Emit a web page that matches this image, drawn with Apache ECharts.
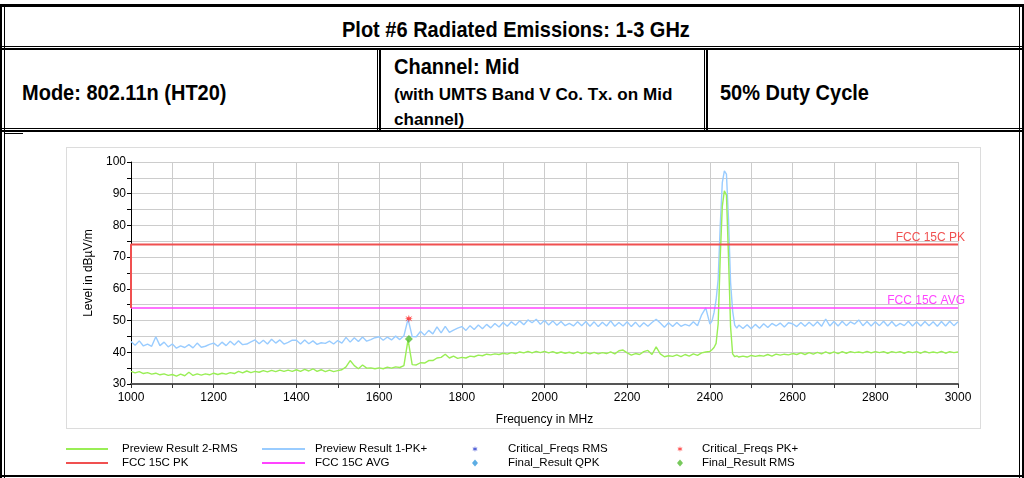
<!DOCTYPE html>
<html>
<head>
<meta charset="utf-8">
<script src="https://cdn.jsdelivr.net/npm/echarts@6/dist/echarts.min.js"></script>
<style>
  body { margin:0; background:#fff; font-family:'Liberation Sans', Arial, sans-serif; }
  #page { position:relative; width:1024px; height:478px; overflow:hidden; }
  .ln { position:absolute; background:#000; }
  .txt { position:absolute; font-weight:bold; color:#000; white-space:nowrap; transform-origin:0 0; }
  #frame { position:absolute; left:66px; top:147px; width:913px; height:280px; border:1px solid #dcdcdc; }
  #chart { position:absolute; left:0; top:0; width:1024px; height:478px; }
</style>
</head>
<body>
<div id="page">
  <!-- table borders -->
  <div class="ln" style="left:0;top:4px;width:1024px;height:3px"></div>
  <div class="ln" style="left:0;top:4px;width:2px;height:474px"></div>
  <div class="ln" style="left:4px;top:4px;width:1px;height:474px"></div>
  <div class="ln" style="left:1019px;top:4px;width:1px;height:474px"></div>
  <div class="ln" style="left:1022px;top:4px;width:2px;height:474px"></div>
  <div class="ln" style="left:0;top:46px;width:1024px;height:1px"></div>
  <div class="ln" style="left:0;top:48px;width:1024px;height:2px"></div>
  <div class="ln" style="left:377px;top:48px;width:1px;height:83px"></div>
  <div class="ln" style="left:379px;top:48px;width:2px;height:83px"></div>
  <div class="ln" style="left:704px;top:48px;width:1px;height:83px"></div>
  <div class="ln" style="left:706px;top:48px;width:2px;height:83px"></div>
  <div class="ln" style="left:0;top:128px;width:1024px;height:1px"></div>
  <div class="ln" style="left:0;top:130px;width:1024px;height:2px"></div>
  <div class="ln" style="left:5px;top:133px;width:18px;height:1px"></div>
  <div class="ln" style="left:0;top:475px;width:1024px;height:2px"></div>

  <div class="txt" style="left:342px;top:18px;font-size:20px;transform:scaleY(1.08)">Plot #6 Radiated Emissions: 1-3 GHz</div>
  <div class="txt" style="left:22px;top:81px;font-size:20px;transform:scaleY(1.08)">Mode: 802.11n (HT20)</div>
  <div class="txt" style="left:394px;top:55px;font-size:20px;transform:scaleY(1.08)">Channel: Mid</div>
  <div class="txt" style="left:394px;top:85px;font-size:15px;transform:scale(1.14,1.05)">(with UMTS Band V Co. Tx. on Mid</div>
  <div class="txt" style="left:394px;top:110px;font-size:15px;transform:scale(1.14,1.05)">channel)</div>
  <div class="txt" style="left:720px;top:81px;font-size:20px;transform:scaleY(1.08)">50% Duty Cycle</div>

  <div id="frame"></div>
  <div id="chart"></div>
</div>
<script>
// frequency grid of the sweep (MHz)
var freq = [
  1000,1010,1020,1030,1040,1050,1060,1070,1080,1090,
  1100,1110,1120,1130,1140,1150,1160,1170,1180,1190,
  1200,1210,1220,1230,1240,1250,1260,1270,1280,1290,
  1300,1310,1320,1330,1340,1350,1360,1370,1380,1390,
  1400,1410,1420,1430,1440,1450,1460,1470,1480,1490,
  1500,1510,1520,1530,1540,1550,1560,1570,1580,1590,
  1600,1610,1620,1630,1640,1650,1660,1670,1680,1690,
  1700,1710,1720,1730,1740,1750,1760,1770,1780,1790,
  1800,1810,1820,1830,1840,1850,1860,1870,1880,1890,
  1900,1910,1920,1930,1940,1950,1960,1970,1980,1990,
  2000,2010,2020,2030,2040,2050,2060,2070,2080,2090,
  2100,2110,2120,2130,2140,2150,2160,2170,2180,2190,
  2200,2210,2220,2230,2240,2250,2260,2270,2280,2290,
  2300,2310,2320,2330,2340,2350,2360,2370,2380,2390,
  2400,
  2405,2410,2415,2420,2425,2430,2435,2440,2445,2450,2455,2460,2465,2470,
  2480,2490,2500,2510,2520,2530,2540,2550,2560,2570,2580,2590,
  2600,2610,2620,2630,2640,2650,2660,2670,2680,2690,
  2700,2710,2720,2730,2740,2750,2760,2770,2780,2790,
  2800,2810,2820,2830,2840,2850,2860,2870,2880,2890,
  2900,2910,2920,2930,2940,2950,2960,2970,2980,2990,
  3000
];

// Preview Result 1-PK+ (dBµV/m)
var pkValues = [
  43.4,42.2,43.6,42.0,42.6,41.9,44.9,42.1,43.2,41.7,
  42.6,41.3,42.0,41.5,42.4,41.4,42.9,41.6,41.9,42.5,
  42.9,41.9,43.2,42.1,43.5,42.3,43.6,42.4,42.6,43.3,
  43.9,42.7,43.8,42.6,44.1,42.9,43.9,42.6,43.1,43.8,
  43.8,42.6,43.9,42.7,43.6,42.5,43.0,42.8,43.5,42.6,
  43.7,42.9,44.7,43.2,44.6,43.4,44.8,43.5,44.0,44.6,
  44.9,43.8,44.8,43.9,45.1,44.0,45.2,50.5,45.0,44.9,
  46.6,45.4,46.9,45.8,48.0,46.1,48.2,46.3,47.0,47.6,
  48.1,46.9,48.4,47.2,48.6,47.4,48.8,47.7,49.1,48.0,
  49.4,48.2,49.6,48.5,49.9,48.7,50.2,49.3,50.4,48.8,
  50.1,48.6,49.9,48.5,49.7,48.4,49.1,48.3,49.6,48.4,
  49.7,48.2,49.6,48.1,49.5,48.3,49.9,48.2,49.4,48.3,
  49.6,48.1,49.5,48.0,49.3,48.2,49.4,50.4,49.2,47.9,
  49.3,48.1,49.4,48.2,48.8,48.3,49.6,48.4,51.8,54.0,
  48.9,
  49.8,52.5,56.5,63.0,80.0,93.5,97.2,96.2,82.0,62.0,53.0,48.6,47.6,48.6,
  47.5,48.7,47.4,48.8,47.6,49.0,47.8,49.1,48.3,49.2,48.0,49.3,
  49.0,48.1,49.4,48.2,49.5,48.3,49.6,48.2,50.5,48.3,
  49.7,48.3,49.8,48.4,49.6,48.9,50.2,48.4,49.7,48.3,
  49.6,48.4,49.8,48.3,49.7,48.2,49.1,48.4,49.8,48.3,
  49.6,48.3,49.7,48.4,49.6,48.2,49.7,48.3,49.8,48.4,
  49.6
];

// Preview Result 2-RMS (dBµV/m)
var rmsValues = [
  34.0,33.5,33.9,33.3,33.6,33.1,33.4,32.9,33.2,32.7,
  33.0,32.5,33.1,32.6,33.7,32.7,33.2,32.8,33.2,32.9,
  33.4,33.0,33.4,33.1,33.6,33.3,34.0,33.5,34.1,33.6,
  34.0,33.7,34.2,33.8,34.3,33.9,34.4,34.0,34.4,34.0,
  34.5,34.0,34.6,34.1,34.8,34.0,34.5,33.9,34.4,33.9,
  34.2,34.5,35.4,37.4,35.8,34.8,36.0,35.0,35.1,34.8,
  35.1,34.8,35.3,35.0,35.4,35.2,35.8,44.0,36.1,36.0,
  36.7,36.6,37.4,37.4,38.2,38.4,39.4,38.2,38.8,38.1,
  38.4,38.2,38.8,38.6,39.1,38.9,39.4,39.2,39.5,39.3,
  39.7,39.4,39.9,39.6,40.1,39.8,40.3,39.8,40.3,39.9,
  40.3,39.8,40.2,39.7,40.1,39.7,40.0,39.6,40.1,39.6,
  40.0,39.5,40.0,39.5,39.9,39.6,40.1,39.5,40.5,40.7,
  39.8,39.1,39.6,39.3,40.2,40.6,39.3,41.7,39.5,38.6,
  38.9,38.7,39.2,38.6,39.3,38.8,39.5,39.0,39.8,40.1,
  40.3,
  40.8,41.5,42.8,49.0,70.0,86.0,90.9,89.5,70.0,48.0,39.5,38.6,38.9,38.5,
  38.8,38.5,39.0,38.7,39.0,38.8,39.3,38.8,39.4,39.1,39.4,39.2,
  39.6,39.3,39.8,39.3,39.9,39.4,40.0,39.5,40.1,39.6,
  40.1,39.6,40.2,39.7,40.2,39.9,40.1,39.8,40.3,39.8,
  40.2,39.9,40.2,39.7,40.2,39.9,40.2,39.7,40.2,39.9,
  40.2,39.7,40.3,39.8,40.1,39.8,40.3,39.7,40.2,39.9,
  40.1
];

// limit lines
var pkLimitFreq = [1000, 1000, 3000];
var pkLimit = [54, 74, 74];
var avgLimitFreq = [1000, 3000];
var avgLimit = [54, 54];

// final / critical points
var criticalPk = [[1672, 50.6]];
var finalRms = [[1672, 44.2]];

var xTicks = [1000,1200,1400,1600,1800,2000,2200,2400,2600,2800,3000];

function pairs(xs, ys) {
  return xs.map(function (x, i) { return [x, ys[i]]; });
}

var asterisk = 'path://M5,0 L6,3.6 L9.3,1.6 L7.2,4.4 L10,5 L7.2,5.6 L9.3,8.4 L6,6.4 L5,10 L4,6.4 L0.7,8.4 L2.8,5.6 L0,5 L2.8,4.4 L0.7,1.6 L4,3.6 Z';

var green = '#99ee55', blue = '#99ccff', red = '#f05050', magenta = '#ff44ff';

var chart = echarts.init(document.getElementById('chart'), null, { renderer: 'canvas' });

var legendText = { fontFamily: 'Liberation Sans', fontSize: 11.5, color: '#000', lineHeight: 12 };

function limitLabel(text, color) {
  return { show: true, formatter: text, color: color, fontSize: 12, fontFamily: 'Liberation Sans',
    align: 'right', verticalAlign: 'bottom', distance: 0, offset: [7, -1] };
}

var option = {
  animation: false,
  textStyle: { fontFamily: 'Liberation Sans' },
  grid: { left: 131, right: 66, top: 162, bottom: 94 },
  legend: [
    { left: 66, top: 443, padding: 0, orient: 'vertical', itemWidth: 42, itemHeight: 2, itemGap: 2, icon: 'rect',
      textStyle: Object.assign({ padding: [0, 0, 0, 9] }, legendText),
      data: ['Preview Result 2-RMS', 'FCC 15C PK'] },
    { left: 262, top: 443, padding: 0, orient: 'vertical', itemWidth: 43, itemHeight: 2, itemGap: 2, icon: 'rect',
      textStyle: Object.assign({ padding: [0, 0, 0, 5] }, legendText),
      data: ['Preview Result 1-PK+', 'FCC 15C AVG'] },
    { left: 472, top: 443, padding: 0, orient: 'vertical', itemWidth: 6, itemHeight: 7, itemGap: 2,
      textStyle: Object.assign({ padding: [0, 0, 0, 25] }, legendText),
      data: [{ name: 'Critical_Freqs RMS', icon: asterisk }, { name: 'Final_Result QPK', icon: 'diamond' }] },
    { left: 677, top: 443, padding: 0, orient: 'vertical', itemWidth: 6, itemHeight: 7, itemGap: 2,
      textStyle: Object.assign({ padding: [0, 0, 0, 14] }, legendText),
      data: [{ name: 'Critical_Freqs PK+', icon: asterisk }, { name: 'Final_Result RMS', icon: 'diamond' }] }
  ],
  xAxis: {
    type: 'value', min: 1000, max: 3000, interval: 200, z: 0,
    name: 'Frequency in MHz', nameLocation: 'middle', nameGap: 30,
    nameTextStyle: { fontSize: 12, color: '#000' },
    axisLine: { onZero: false, lineStyle: { color: '#555', width: 2 } },
    axisTick: { show: true, length: 4, lineStyle: { color: '#333' } },
    minorTick: { show: true, splitNumber: 2, length: 4, lineStyle: { color: '#333' } },
    axisLabel: { fontSize: 12, color: '#000', margin: 8,
      formatter: function (v) { return xTicks.indexOf(v) >= 0 ? String(v) : ''; } },
    splitLine: { show: true, lineStyle: { color: '#cccccc', width: 1 } },
    minorSplitLine: { show: true, lineStyle: { color: '#cccccc', width: 1 } }
  },
  yAxis: {
    type: 'value', min: 30, max: 100, interval: 10, z: 0,
    name: 'Level in dBµV/m', nameLocation: 'middle', nameGap: 33, nameRotate: 90,
    nameTextStyle: { fontSize: 12, color: '#000' },
    axisLine: { show: true, lineStyle: { color: '#000', width: 1 } },
    axisTick: { show: true, length: 4, lineStyle: { color: '#000' } },
    minorTick: { show: true, splitNumber: 2, length: 4, lineStyle: { color: '#000' } },
    axisLabel: { fontSize: 12, color: '#000', margin: 5 },
    splitLine: { show: true, lineStyle: { color: '#cccccc', width: 1 } },
    minorSplitLine: { show: true, lineStyle: { color: '#cccccc', width: 1 } }
  },
  series: [
    { name: 'Preview Result 2-RMS', type: 'line', data: pairs(freq, rmsValues), showSymbol: false, symbol: 'none',
      itemStyle: { color: green }, lineStyle: { color: green, width: 1.4 }, z: 3 },
    { name: 'Preview Result 1-PK+', type: 'line', data: pairs(freq, pkValues), showSymbol: false, symbol: 'none',
      itemStyle: { color: blue }, lineStyle: { color: blue, width: 1.4 }, z: 2 },
    { name: 'FCC 15C PK', type: 'line', data: pairs(pkLimitFreq, pkLimit), symbol: 'none', clip: false,
      endLabel: limitLabel('FCC 15C PK', red),
      itemStyle: { color: red }, lineStyle: { color: red, width: 2 }, z: 10 },
    { name: 'FCC 15C AVG', type: 'line', data: pairs(avgLimitFreq, avgLimit), symbol: 'none', clip: false,
      endLabel: limitLabel('FCC 15C AVG', magenta),
      itemStyle: { color: magenta }, lineStyle: { color: magenta, width: 1.5 }, z: 9 },
    { name: 'Critical_Freqs RMS', type: 'scatter', data: [], symbol: asterisk, symbolSize: 7,
      itemStyle: { color: '#2233cc' } },
    { name: 'Final_Result QPK', type: 'scatter', data: [], symbol: 'diamond', symbolSize: 7,
      itemStyle: { color: '#3399dd' } },
    { name: 'Critical_Freqs PK+', type: 'scatter', data: criticalPk, symbol: asterisk, symbolSize: 8,
      itemStyle: { color: '#ff2020' }, z: 11 },
    { name: 'Final_Result RMS', type: 'scatter', data: finalRms, symbol: 'diamond', symbolSize: 8,
      itemStyle: { color: '#55bb33' }, z: 11 }
  ]
};

chart.setOption(option);
</script>
</body>
</html>
